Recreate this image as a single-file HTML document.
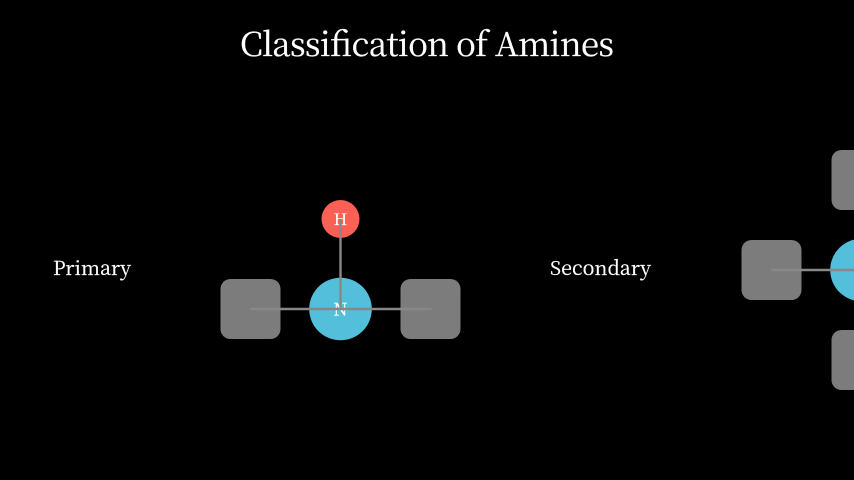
<!DOCTYPE html>
<html>
<head>
<meta charset="utf-8">
<style>
html,body{margin:0;padding:0;background:#000;width:854px;height:480px;overflow:hidden}
svg{display:block}
text{font-family:"Noto Serif CJK SC","Liberation Serif",serif;fill:#fff;stroke:#fff;stroke-width:.25}
</style>
</head>
<body>
<svg width="854" height="480" viewBox="0 0 854 480" xmlns="http://www.w3.org/2000/svg">
<rect width="854" height="480" fill="#000"/>
<text x="240" y="56" font-size="33" textLength="374" lengthAdjust="spacing">Classification of Amines</text>
<text x="53" y="275" font-size="19.5" textLength="78" lengthAdjust="spacing">Primary</text>
<text x="550" y="275" font-size="19.5" textLength="101" lengthAdjust="spacing">Secondary</text>

<rect x="220.5" y="279" width="60" height="60" rx="10" fill="#7c7c7c"/>
<rect x="400.5" y="279" width="60" height="60" rx="10" fill="#7c7c7c"/>
<circle cx="340.5" cy="309" r="31.3" fill="#54BFDB"/>
<circle cx="340.5" cy="219" r="19" fill="#FA6054"/>
<text x="340.5" y="225" font-size="16" text-anchor="middle">H</text>
<text x="340.5" y="315.5" font-size="17.5" text-anchor="middle">N</text>
<line x1="250.5" y1="309" x2="431.5" y2="309" stroke="#888" stroke-width="2.4"/>
<line x1="340.5" y1="219" x2="340.5" y2="309" stroke="#888" stroke-width="2.4"/>

<rect x="741.5" y="240" width="60" height="60" rx="10" fill="#7c7c7c"/>
<rect x="831.5" y="150" width="60" height="60" rx="10" fill="#7c7c7c"/>
<rect x="831.5" y="330" width="60" height="60" rx="10" fill="#7c7c7c"/>
<circle cx="861.5" cy="270" r="31.3" fill="#54BFDB"/>
<line x1="771.5" y1="270" x2="861.5" y2="270" stroke="#888" stroke-width="2.4"/>
</svg>
</body>
</html>
